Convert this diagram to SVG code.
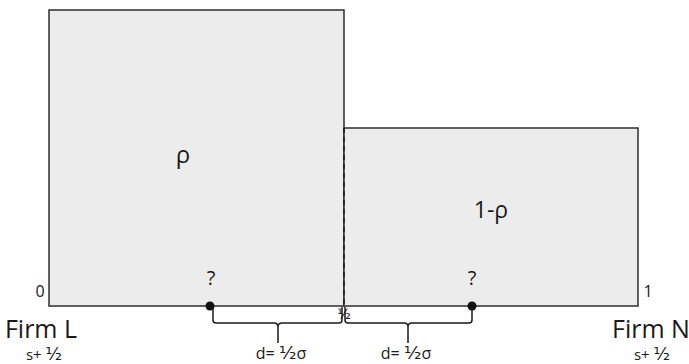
<svg xmlns="http://www.w3.org/2000/svg" width="689" height="364" viewBox="0 0 689 364">
<style>
.box{fill:#ebeceb;stroke:#2e2e2e;stroke-width:1.5}
.t{font-family:"Open Sans","Noto Sans",sans-serif;fill:#1a1a1a}
.h{font-family:"DejaVu Sans",sans-serif}
.br{fill:none;stroke:#1a1a1a;stroke-width:1.5}
</style>
<rect width="689" height="364" fill="#fff"/>
<g id="regionL">
<rect class="box" x="49" y="10" width="295" height="296"/>
<text class="t" x="183" y="163" font-size="24" text-anchor="middle">ρ</text>
</g>
<g id="regionN">
<rect class="box" x="344" y="128" width="294" height="178"/>
<text class="t" x="491" y="218" font-size="23" text-anchor="middle">1-ρ</text>
</g>
<line x1="344" y1="128" x2="344" y2="306" stroke="#1a1a1a" stroke-width="1.5" stroke-dasharray="5,4"/>
<g id="pointA">
<circle cx="210" cy="306" r="4.5" fill="#111"/>
<text class="t" x="211" y="285" font-size="20" text-anchor="middle">?</text>
</g>
<g id="pointB">
<circle cx="472" cy="306" r="4.5" fill="#111"/>
<text class="t" x="472" y="285" font-size="20" text-anchor="middle">?</text>
</g>
<g id="connectors">
<path class="br" d="M213,307 V320 Q213,323 216,323 H274 Q278,323 278,327 V343 M278,327 Q278,323 282,323 H339 Q342,323 342,320 V307"/>
<path class="br" d="M345,307 V320 Q345,323 348,323 H404 Q408,323 408,327 V343 M408,327 Q408,323 412,323 H469 Q472,323 472,320 V307"/>
</g>
<g id="labels">
<text class="t" x="40" y="297" font-size="16" text-anchor="middle">0</text>
<text class="t" x="648" y="297" font-size="16" text-anchor="middle">1</text>
<text class="t h" x="344" y="319" font-size="14" text-anchor="middle">½</text>
<text class="t" x="281" y="359" font-size="16" text-anchor="middle">d= <tspan class="h" font-size="18">½</tspan>σ</text>
<text class="t" x="406" y="359" font-size="16" text-anchor="middle">d= <tspan class="h" font-size="18">½</tspan>σ</text>
</g>
<g id="firmL">
<text class="t" x="41" y="338" font-size="25" text-anchor="middle">Firm L</text>
<text class="t" x="44" y="360" font-size="15" text-anchor="middle">s+ <tspan class="h" font-size="17">½</tspan></text>
</g>
<g id="firmN">
<text class="t" x="651" y="338" font-size="25" text-anchor="middle">Firm N</text>
<text class="t" x="652" y="360" font-size="15" text-anchor="middle">s+ <tspan class="h" font-size="17">½</tspan></text>
</g>
</svg>
